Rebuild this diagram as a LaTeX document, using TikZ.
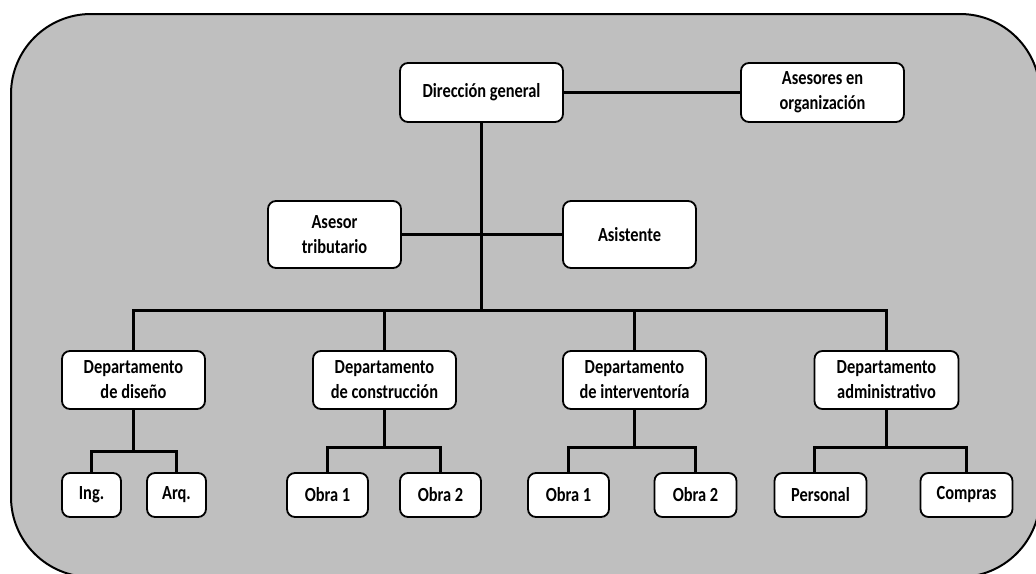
\documentclass[tikz,border=0pt]{standalone}
\usepackage{fontspec}
\setmainfont{Carlito}[FakeStretch=0.82]
\usetikzlibrary{calc}
\pgfdeclarelayer{bglayer}
\pgfdeclarelayer{linelayer}
\pgfsetlayers{bglayer,linelayer,main}
\definecolor{bggray}{RGB}{191,191,191}
\tikzset{
  box/.style={draw, line width=1.8pt, fill=white, rounded corners=8pt, align=center,
    inner sep=0pt, font=\fontsize{20}{25}\selectfont\bfseries},
  conn/.style={draw=black, line width=2.4pt, line cap=rect}
}
\begin{document}
\begin{tikzpicture}[x=1pt,y=-1pt]
\useasboundingbox (0,0) rectangle (1036,573);
\begin{pgfonlayer}{bglayer}
\clip (0,0) rectangle (1036,573);
\draw[fill=bggray, line width=2pt, rounded corners=80pt] (11,14) rectangle (1040,577);
\end{pgfonlayer}

\node[box, minimum width=163pt, minimum height=59pt] (dg) at (481.5,92.5) {Dirección general};
\node[box, minimum width=163pt, minimum height=59pt] (ao) at (822.5,92.5) {Asesores en\\organización};
\node[box, minimum width=133pt, minimum height=67pt] (at) at (334.5,234.5) {Asesor\\tributario};
\node[box, minimum width=133pt, minimum height=67pt] (as) at (629.5,234.5) {Asistente};

\node[box, minimum width=143pt, minimum height=58pt] (d1) at (133.5,380) {Departamento\\de diseño};
\node[box, minimum width=143pt, minimum height=58pt] (d2) at (384.5,380) {Departamento\\de construcción};
\node[box, minimum width=143pt, minimum height=58pt] (d3) at (634.5,380) {Departamento\\de interventoría};
\node[box, minimum width=144pt, minimum height=58pt] (d4) at (886.5,380) {Departamento\\administrativo};

\node[box, minimum width=59pt, minimum height=44pt] (ing) at (91.5,495) {Ing.};
\node[box, minimum width=59pt, minimum height=44pt] (arq) at (176.5,495) {Arq.};
\node[box, minimum width=81pt, minimum height=44pt] (o1) at (327.5,495) {Obra 1};
\node[box, minimum width=81pt, minimum height=44pt] (o2) at (440.5,495) {Obra 2};
\node[box, minimum width=81pt, minimum height=44pt] (o3) at (568.5,495) {Obra 1};
\node[box, minimum width=82pt, minimum height=44pt] (o4) at (695.5,495) {Obra 2};
\node[box, minimum width=92pt, minimum height=44pt] (per) at (820.5,495) {Personal};
\node[box, minimum width=92pt, minimum height=44pt] (com) at (966.5,495) {Compras};

\coordinate (b0) at (481.5,310.5);
\coordinate (s1) at ($(d1.south)+(0,41.5)$);
\coordinate (s2) at ($(d2.south)+(0,37.5)$);
\coordinate (s3) at ($(d3.south)+(0,37.5)$);
\coordinate (s4) at ($(d4.south)+(0,37.5)$);

\begin{pgfonlayer}{linelayer}
\path[conn] (dg.east) -- (ao.west);
\path[conn] (dg.south) -- (b0);
\path[conn] (at.east) -- (as.west);
\path[conn] (d1.north) |- (b0) -| (d4.north);
\path[conn] (d2.north) -- (d2.north |- b0);
\path[conn] (d3.north) -- (d3.north |- b0);
\path[conn] (d1.south) -- (s1);
\path[conn] (ing.north) |- (s1) -| (arq.north);
\path[conn] (d2.south) -- (s2);
\path[conn] (o1.north) |- (s2) -| (o2.north);
\path[conn] (d3.south) -- (s3);
\path[conn] (o3.north) |- (s3) -| (o4.north);
\path[conn] (d4.south) -- (s4);
\path[conn] ([xshift=-6pt]per.north) |- (s4) -| (com.north);
\end{pgfonlayer}
\end{tikzpicture}
\end{document}
